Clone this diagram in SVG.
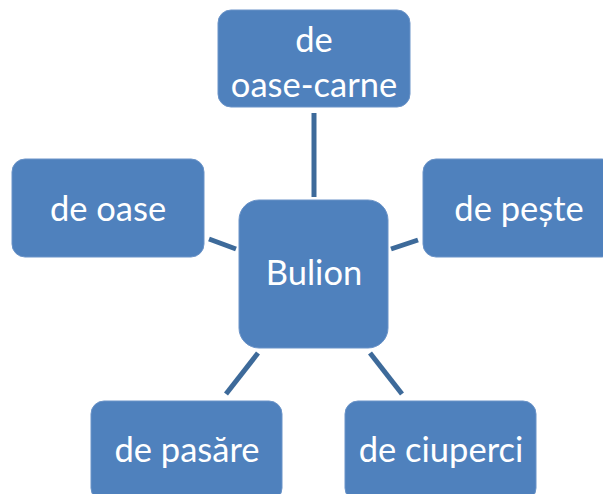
<svg xmlns="http://www.w3.org/2000/svg" width="603" height="494" viewBox="0 0 603 494">
<style>
.box{fill:#4F81BD;stroke:#6A93C8;stroke-width:1}
.t{fill:#ffffff;font-family:Lato,"Open Sans","Liberation Sans",sans-serif;font-size:34.5px;text-anchor:middle}
.c{stroke:#3D6A9A;stroke-width:5;fill:none}
</style>
<rect width="603" height="494" fill="#ffffff"/>
<g id="connectors">
<line class="c" x1="314" y1="113" x2="314" y2="197"/>
<line class="c" x1="209" y1="239" x2="236" y2="249"/>
<line class="c" x1="391" y1="249" x2="418" y2="240"/>
<line class="c" x1="258" y1="353" x2="226" y2="394"/>
<line class="c" x1="370" y1="353" x2="402" y2="394"/>
</g>
<g id="n-top"><rect class="box" x="218" y="10" width="192" height="97" rx="13"/><text class="t" x="314" y="52">de</text><text class="t" x="314" y="97">oase-carne</text></g>
<g id="n-left"><rect class="box" x="12" y="159" width="192" height="98" rx="13"/><text class="t" x="108" y="221">de oase</text></g>
<g id="n-center"><rect class="box" x="239" y="200" width="149" height="148" rx="20"/><text class="t" x="314" y="285">Bulion</text></g>
<g id="n-right"><rect class="box" x="423" y="159" width="192" height="98" rx="13"/><text class="t" x="519" y="221">de pește</text></g>
<g id="n-bl"><rect class="box" x="91" y="401" width="191" height="100" rx="13"/><text class="t" x="187" y="462">de pasăre</text></g>
<g id="n-br"><rect class="box" x="345" y="401" width="191" height="100" rx="13"/><text class="t" x="441" y="462">de ciuperci</text></g>
</svg>
